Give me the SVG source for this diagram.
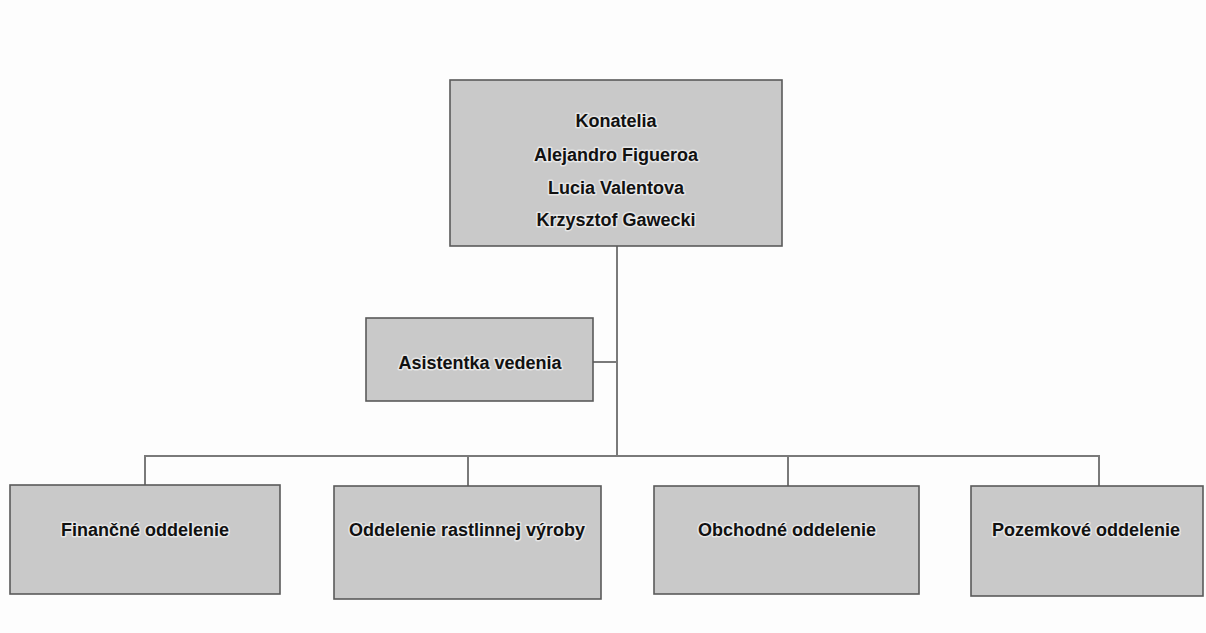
<svg xmlns="http://www.w3.org/2000/svg" width="1206" height="633" viewBox="0 0 1206 633">
<style>
.box{fill:#c9c9c9;stroke:#5a5a5a;stroke-width:1.6}
.lbl{font-family:"Liberation Sans",Arial,sans-serif;font-weight:bold;font-size:18px;fill:#111111;text-anchor:middle;stroke:#ffffff;stroke-width:3;stroke-opacity:0.55;paint-order:stroke;stroke-linejoin:round}
.con{fill:none;stroke:#7a7a7a;stroke-width:2}
</style>
<rect x="0" y="0" width="1206" height="633" fill="#fdfdfd"/>
<g id="connectors">
<line class="con" x1="617" y1="246" x2="617" y2="456"/>
<line class="con" x1="593" y1="362" x2="617" y2="362"/>
<polyline class="con" points="145,485 145,456 1099,456 1099,486"/>
<line class="con" x1="468" y1="456" x2="468" y2="486"/>
<line class="con" x1="788" y1="456" x2="788" y2="486"/>
</g>
<g id="konatelia">
<rect class="box" x="450" y="80" width="332" height="166"/>
<text class="lbl" x="616" y="127">Konatelia</text>
<text class="lbl" x="616" y="161">Alejandro Figueroa</text>
<text class="lbl" x="616" y="194">Lucia Valentova</text>
<text class="lbl" x="616" y="226">Krzysztof Gawecki</text>
</g>
<g id="asistentka">
<rect class="box" x="366" y="318" width="227" height="83"/>
<text class="lbl" x="480" y="369">Asistentka vedenia</text>
</g>
<g id="financne">
<rect class="box" x="10" y="485" width="270" height="109"/>
<text class="lbl" x="145" y="536">Finančné oddelenie</text>
</g>
<g id="rastlinna">
<rect class="box" x="334" y="486" width="267" height="113"/>
<text class="lbl" x="467" y="536">Oddelenie rastlinnej výroby</text>
</g>
<g id="obchodne">
<rect class="box" x="654" y="486" width="265" height="108"/>
<text class="lbl" x="787" y="536">Obchodné oddelenie</text>
</g>
<g id="pozemkove">
<rect class="box" x="971" y="486" width="232" height="110"/>
<text class="lbl" x="1086" y="536">Pozemkové oddelenie</text>
</g>
</svg>
